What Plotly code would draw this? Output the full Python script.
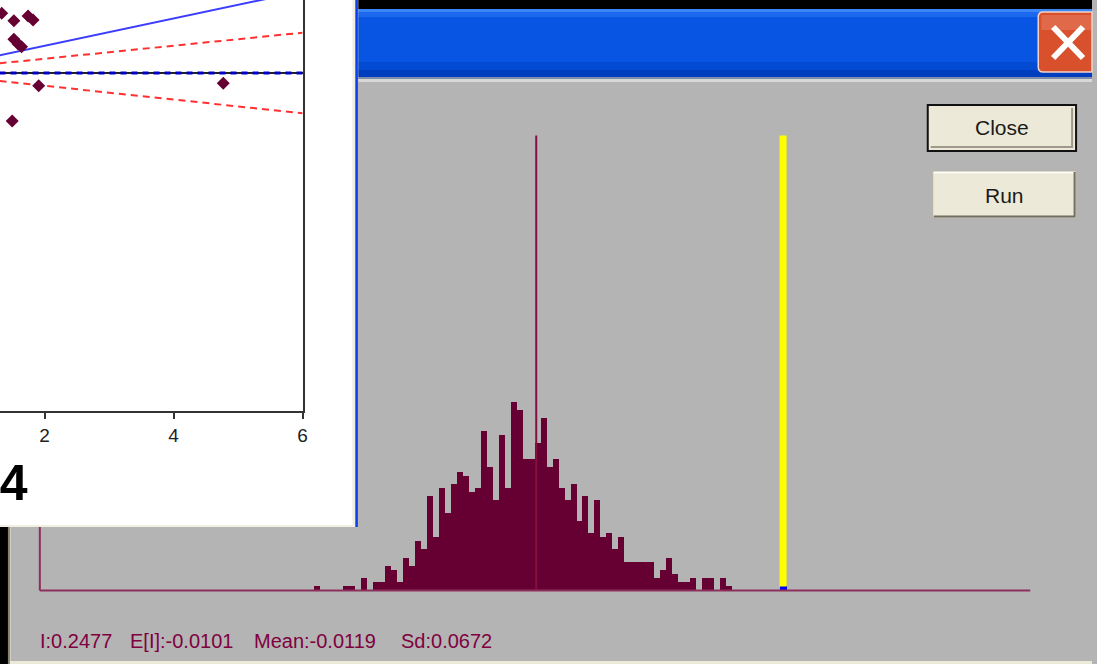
import plotly.graph_objects as go

W, H = 1097, 664

# ---------------- permutation reference distribution of Moran's I ----------------
BIN_START = -0.2426          # left edge of the first histogram bin
BIN_WIDTH = 0.00624
perm_counts = [
    1, 0, 0, 0, 0, 1, 1, 0, 3, 0,
    2, 2, 6, 5, 2, 8, 6, 12, 10, 23,
    13, 25, 19, 26, 29, 28, 24, 25, 39, 30,
    22, 38, 25, 46, 44, 32, 32, 36, 42, 30,
    32, 25, 22, 26, 17, 23, 14, 22, 13, 14,
    10, 13, 7, 7, 7, 7, 7, 3, 5, 8,
    4, 2, 2, 3, 0, 3, 3, 0, 3, 1,
]
OBSERVED_I = 0.2477
EXPECTED_I = -0.0101
PERM_MEAN = -0.0119
PERM_SD = 0.0672
REF_LINE_HEIGHT = 111        # height of the E[I] / observed-I reference lines (counts)
OBSERVED_COUNT = 1

stats_labels = [
    f"I:{OBSERVED_I:.4f}",
    f"E[I]:{EXPECTED_I:.4f}",
    f"Mean:{PERM_MEAN:.4f}",
    f"Sd:{PERM_SD:.4f}",
]

# ---------------- Moran scatter plot (background window) ----------------
std_value = [1.334, 1.523, 1.743, 1.820, 1.523, 1.589, 1.641, 1.908, 1.497, 4.769]
lag_value = [1.085, 0.951, 1.036, 0.964, 0.613, 0.527, 0.478, -0.231, -0.873, -0.187]
line_x = [1.30, 6.0]
env_upper = [0.176, 0.733]
env_lower = [-0.145, -0.733]
scatter_ticks = [2, 4, 6]

bin_centers = [BIN_START + (i + 0.5) * BIN_WIDTH for i in range(len(perm_counts))]
fit_y = [OBSERVED_I * v for v in line_x]

MAROON = "#660033"

fig = go.Figure()

# histogram of permuted statistics
fig.add_trace(go.Bar(
    x=bin_centers, y=perm_counts, width=BIN_WIDTH,
    marker=dict(color=MAROON, line=dict(width=0)),
    xaxis="x", yaxis="y", showlegend=False, hoverinfo="skip",
))
# observed value bin
fig.add_trace(go.Bar(
    x=[OBSERVED_I], y=[OBSERVED_COUNT], width=0.0072,
    marker=dict(color="#0000ff", line=dict(width=0)),
    xaxis="x", yaxis="y", showlegend=False, hoverinfo="skip",
))
# E[I] reference line
fig.add_trace(go.Scatter(
    x=[EXPECTED_I, EXPECTED_I], y=[0, REF_LINE_HEIGHT], mode="lines",
    line=dict(color="#85103f", width=2),
    xaxis="x", yaxis="y", showlegend=False, hoverinfo="skip",
))
# observed I
fig.add_trace(go.Scatter(
    x=[OBSERVED_I, OBSERVED_I], y=[OBSERVED_COUNT, REF_LINE_HEIGHT], mode="lines",
    line=dict(color="#ffff00", width=7),
    xaxis="x", yaxis="y", showlegend=False, hoverinfo="skip",
))

# scatter plot: envelopes, fitted slope, zero line and points
fig.add_trace(go.Scatter(
    x=line_x, y=env_upper, mode="lines",
    line=dict(color="#ff3030", width=2, dash="7px,5px"),
    xaxis="x2", yaxis="y2", showlegend=False, hoverinfo="skip",
))
fig.add_trace(go.Scatter(
    x=line_x, y=env_lower, mode="lines",
    line=dict(color="#ff3030", width=2, dash="7px,5px"),
    xaxis="x2", yaxis="y2", showlegend=False, hoverinfo="skip",
))
fig.add_trace(go.Scatter(
    x=line_x, y=[0, 0], mode="lines",
    line=dict(color="#0000c8", width=3, dash="6px,5px"),
    xaxis="x2", yaxis="y2", showlegend=False, hoverinfo="skip",
))
fig.add_trace(go.Scatter(
    x=line_x, y=fit_y, mode="lines",
    line=dict(color="#3c3cff", width=2),
    xaxis="x2", yaxis="y2", showlegend=False, hoverinfo="skip",
))
fig.add_trace(go.Scatter(
    x=std_value, y=lag_value, mode="markers",
    marker=dict(symbol="diamond", size=10, color=MAROON),
    xaxis="x2", yaxis="y2", showlegend=False, hoverinfo="skip",
))

# ---------------- window chrome ----------------
shapes = []


def px(x):
    return x / W


def py(y):
    return 1 - y / H


def rect(x0, y0, x1, y1, fill, line_color=None, line_width=0, layer="below"):
    shapes.append(dict(
        type="rect", xref="paper", yref="paper",
        x0=px(x0), x1=px(x1), y0=py(y1), y1=py(y0),
        fillcolor=fill, line=dict(width=line_width, color=line_color or fill),
        layer=layer,
    ))


def seg(x0, y0, x1, y1, color, width, layer="below"):
    shapes.append(dict(
        type="line", xref="paper", yref="paper",
        x0=px(x0), x1=px(x1), y0=py(y0), y1=py(y1),
        line=dict(color=color, width=width), layer=layer,
    ))


# dark desktop strip above the dialog
rect(360, 0, W, 9, "#000000")
# title bar
rect(360, 9, W, 12, "#3a86f6")
rect(360, 12, W, 17, "#1c69ee")
rect(360, 17, W, 62, "#0855e3")
rect(360, 62, W, 70, "#044bd4")
rect(360, 70, W, 77, "#003ec0")
rect(360, 77, W, 79, "#7f8ea8")
rect(360, 79, W, 82, "#d8d8d8")

# close button (its right side runs off the window edge)
r = 5
x0b, y0b, x1b, y1b = 1043, 12, W, 72
path = (
    f"M {px(x0b + r)},{py(y0b)} L {px(x1b)},{py(y0b)} L {px(x1b)},{py(y1b)} "
    f"L {px(x0b + r)},{py(y1b)} Q {px(x0b)},{py(y1b)} {px(x0b)},{py(y1b - r)} "
    f"L {px(x0b)},{py(y0b + r)} Q {px(x0b)},{py(y0b)} {px(x0b + r)},{py(y0b)} Z"
)
shapes.append(dict(type="path", xref="paper", yref="paper", path=path,
                   fillcolor="#d9502c", line=dict(color="#f3d2c6", width=1.5),
                   layer="below"))
rect(1046, 15, W - 1, 30, "#e0694a")
seg(1058, 27, 1088, 58, "#ffffff", 6)
seg(1088, 27, 1058, 58, "#ffffff", 6)

# left frame and bottom edge of the dialog
rect(0, 520, 8, H, "#000000")
rect(8, 520, 10, H, "#85826f")
rect(10, 520, 11, H, "#d4d0c8")
rect(10, 661, W, H, "#ece9d8")

# histogram frame
shapes.append(dict(type="line", xref="x", yref="paper",
                   x0=-0.5285, x1=-0.5285, y0=py(590.5), y1=py(135),
                   line=dict(color="#8c2f5a", width=2), layer="below"))
shapes.append(dict(type="line", xref="x", yref="y",
                   x0=-0.5285, x1=0.5058, y0=0, y1=0,
                   line=dict(color="#8c2f5a", width=2), layer="above"))

# overlapping scatter-plot window
rect(0, 0, 357, 527, "#f1efe2")
rect(0, 0, 354, 525, "#ffffff")
rect(357, 0, 359.5, 527, "#0a3ff0")

# buttons
rect(932, 105, 1081, 151, "#ece9d8", "#111111", 2)
seg(935, 147, 1078, 147, "#9d9a8c", 2)
seg(1077, 108, 1077, 147, "#9d9a8c", 2)
rect(937, 171, 1081, 218, "#ece9d8", "#b6b3a6", 1)
seg(938, 216.5, 1080, 216.5, "#716f64", 2)
seg(1079.5, 172, 1079.5, 217, "#716f64", 2)
seg(938, 172.5, 1078, 172.5, "#ffffff", 1.5)

annotations = []
btn_font = dict(family="Liberation Sans, Arial", size=21, color="#1a1a1a")
annotations.append(dict(text="Close", x=px(1006.5), y=py(128), xref="paper", yref="paper",
                        showarrow=False, font=btn_font, xanchor="center", yanchor="middle"))
annotations.append(dict(text="Run", x=px(1009), y=py(195), xref="paper", yref="paper",
                        showarrow=False, font=btn_font, xanchor="center", yanchor="middle"))

# statistics line along the bottom of the dialog
stat_x = [38, 129, 253, 401]
for label, xpos in zip(stats_labels, stat_x):
    annotations.append(dict(text=label, x=px(xpos), y=py(641), xref="paper", yref="paper",
                            showarrow=False, xanchor="left", yanchor="middle",
                            font=dict(family="Liberation Sans, Arial", size=20, color="#800040")))

# scatter plot year label (runs past the window's left edge)
annotations.append(dict(text="<b>74</b>", x=px(30), y=py(483), xref="paper", yref="paper",
                        showarrow=False, xanchor="right", yanchor="middle",
                        font=dict(family="Liberation Sans, Arial", size=50, color="#000000")))

fig.update_layout(
    width=W, height=H,
    margin=dict(l=0, r=0, t=0, b=0),
    paper_bgcolor="#b4b4b4",
    plot_bgcolor="rgba(0,0,0,0)",
    barmode="overlay", bargap=0,
    xaxis=dict(domain=[0, 1], range=[-0.5701, 0.5703], visible=False,
               showgrid=False, zeroline=False, anchor="y"),
    yaxis=dict(domain=[0, 1], range=[-17.93, 144.02], visible=False,
               showgrid=False, zeroline=False, anchor="x"),
    xaxis2=dict(domain=[0, 304 / W], range=[1.3077, 6.0], anchor="y2",
                tickvals=scatter_ticks, ticks="outside", ticklen=6, tickwidth=2,
                tickcolor="#333333", showline=True, linecolor="#333333", linewidth=2,
                showgrid=False, zeroline=False,
                tickfont=dict(family="Liberation Sans, Arial", size=19, color="#222222")),
    yaxis2=dict(domain=[1 - 411 / H, 1], range=[-6.145, 1.327], anchor="x2", side="right",
                showline=True, linecolor="#333333", linewidth=2, ticks="",
                showticklabels=False, showgrid=False,
                zeroline=True, zerolinecolor="#222222", zerolinewidth=2),
    shapes=shapes,
    annotations=annotations,
)

# keep the page itself from adding margins or scrollbars around the figure
page_css = (
    "document.documentElement.style.margin='0';"
    "document.documentElement.style.overflow='hidden';"
    "document.body.style.margin='0';"
    "document.body.style.overflow='hidden';"
)

fig.write_html("out.html", config={"displayModeBar": False, "responsive": False},
               post_script=page_css)
